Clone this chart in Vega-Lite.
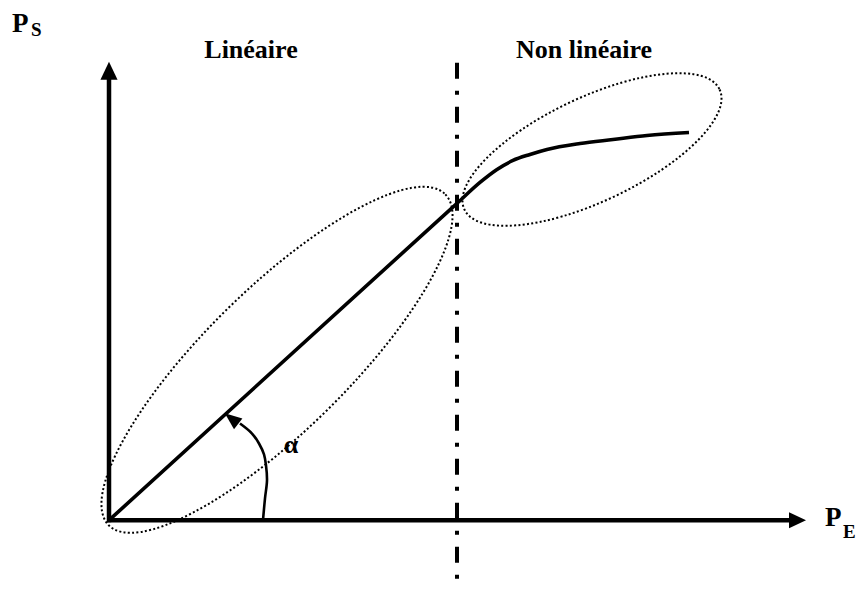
{
  "$schema": "https://vega.github.io/schema/vega-lite/v6.json",
  "width": 861,
  "height": 592,
  "padding": 0,
  "autosize": {"type": "fit", "contains": "padding"},
  "background": "white",
  "config": {"view": {"stroke": null}, "text": {"font": "Liberation Serif", "fontWeight": "bold", "color": "black"}},
  "datasets": {
    "axes": [{"x": -2, "y": 0, "x2": 684, "y2": 0}, {"x": 0, "y": -2, "x2": 0, "y2": 447}],
    "divider": [{"x": 348, "y": 459, "y2": -70}],
    "curve": [
      {"x": 0, "y": 0}, {"x": 348, "y": 318}, {"x": 371, "y": 339}, {"x": 388, "y": 352},
      {"x": 404, "y": 361}, {"x": 421, "y": 367}, {"x": 438, "y": 372}, {"x": 471, "y": 378},
      {"x": 504, "y": 382}, {"x": 538, "y": 386}, {"x": 580, "y": 389}
    ],
    "arc": [
      {"i": 0, "x": 154, "y": 0}, {"i": 1, "x": 156, "y": 22}, {"i": 2, "x": 158, "y": 40},
      {"i": 3, "x": 157, "y": 55}, {"i": 4, "x": 155, "y": 66}, {"i": 5, "x": 150, "y": 77},
      {"i": 6, "x": 143, "y": 87}, {"i": 7, "x": 131, "y": 97}
    ],
    "zoneLin": [{"x": 168, "y": 161}],
    "zoneNonLin": [{"x": 483, "y": 372}],
    "yTip": [{"x": 0, "y": 451}],
    "xTip": [{"x": 688.5, "y": 0}],
    "arcTip": [{"x": 122.5, "y": 102}],
    "titles": [{"x": 142, "y": 464, "t": "Linéaire"}, {"x": 475, "y": 464, "t": "Non linéaire"}],
    "mainLetters": [{"x": -97, "y": 490, "t": "P"}, {"x": 716, "y": -6, "t": "P"}],
    "subLetters": [{"x": -78, "y": 486, "t": "S"}, {"x": 734, "y": -18, "t": "E"}],
    "angleLabel": [{"x": 182, "y": 67, "t": "α"}]
  },
  "encoding": {
    "x": {"field": "x", "type": "quantitative", "scale": {"domain": [-109, 752], "nice": false, "zero": false}, "axis": null},
    "y": {"field": "y", "type": "quantitative", "scale": {"domain": [-70, 522], "nice": false, "zero": false}, "axis": null}
  },
  "layer": [
    {
      "data": {"name": "zoneLin"},
      "mark": {"type": "point", "filled": false, "stroke": "black", "strokeWidth": 2, "strokeDash": [2, 2.3], "opacity": 1,
        "shape": "M1,0C1,0.166,0.552,0.301,0,0.301C-0.552,0.301,-1,0.166,-1,0C-1,-0.166,-0.552,-0.301,0,-0.301C0.552,-0.301,1,-0.166,1,0Z",
        "size": 222784, "angle": 315.5}
    },
    {
      "data": {"name": "zoneNonLin"},
      "mark": {"type": "point", "filled": false, "stroke": "black", "strokeWidth": 2, "strokeDash": [2, 2.3], "opacity": 1,
        "shape": "M1,0C1,0.204,0.552,0.369,0,0.369C-0.552,0.369,-1,0.204,-1,0C-1,-0.204,-0.552,-0.369,0,-0.369C0.552,-0.369,1,-0.204,1,0Z",
        "size": 79524, "angle": 334.8}
    },
    {
      "data": {"name": "divider"},
      "mark": {"type": "rule", "color": "black", "strokeWidth": 4, "strokeDash": [16, 12, 4, 12]},
      "encoding": {"y2": {"field": "y2"}}
    },
    {
      "data": {"name": "axes"},
      "mark": {"type": "rule", "color": "black", "strokeWidth": 4.5},
      "encoding": {"x2": {"field": "x2"}, "y2": {"field": "y2"}}
    },
    {
      "data": {"name": "yTip"},
      "mark": {"type": "point", "filled": true, "fill": "black", "strokeWidth": 0, "opacity": 1, "shape": "M0,-1L-0.95,1L0.95,1Z", "size": 324}
    },
    {
      "data": {"name": "xTip"},
      "mark": {"type": "point", "filled": true, "fill": "black", "strokeWidth": 0, "opacity": 1, "shape": "M1,0L-1,-0.95L-1,0.95Z", "size": 289}
    },
    {
      "data": {"name": "curve"},
      "mark": {"type": "line", "color": "black", "strokeWidth": 3.6, "interpolate": "monotone"}
    },
    {
      "data": {"name": "arc"},
      "mark": {"type": "line", "color": "black", "strokeWidth": 2.6, "interpolate": "catmull-rom"},
      "encoding": {"order": {"field": "i", "type": "quantitative"}}
    },
    {
      "data": {"name": "arcTip"},
      "mark": {"type": "point", "filled": true, "fill": "black", "strokeWidth": 0, "opacity": 1, "shape": "M0,-1L-0.8,1L0.8,1Z", "size": 289, "angle": 308}
    },
    {
      "data": {"name": "titles"},
      "mark": {"type": "text", "fontSize": 26, "align": "center", "baseline": "alphabetic"},
      "encoding": {"text": {"field": "t"}}
    },
    {
      "data": {"name": "mainLetters"},
      "mark": {"type": "text", "fontSize": 27, "align": "left", "baseline": "alphabetic"},
      "encoding": {"text": {"field": "t"}}
    },
    {
      "data": {"name": "subLetters"},
      "mark": {"type": "text", "fontSize": 19, "align": "left", "baseline": "alphabetic"},
      "encoding": {"text": {"field": "t"}}
    },
    {
      "data": {"name": "angleLabel"},
      "mark": {"type": "text", "fontSize": 26, "align": "center", "baseline": "alphabetic"},
      "encoding": {"text": {"field": "t"}}
    }
  ]
}
